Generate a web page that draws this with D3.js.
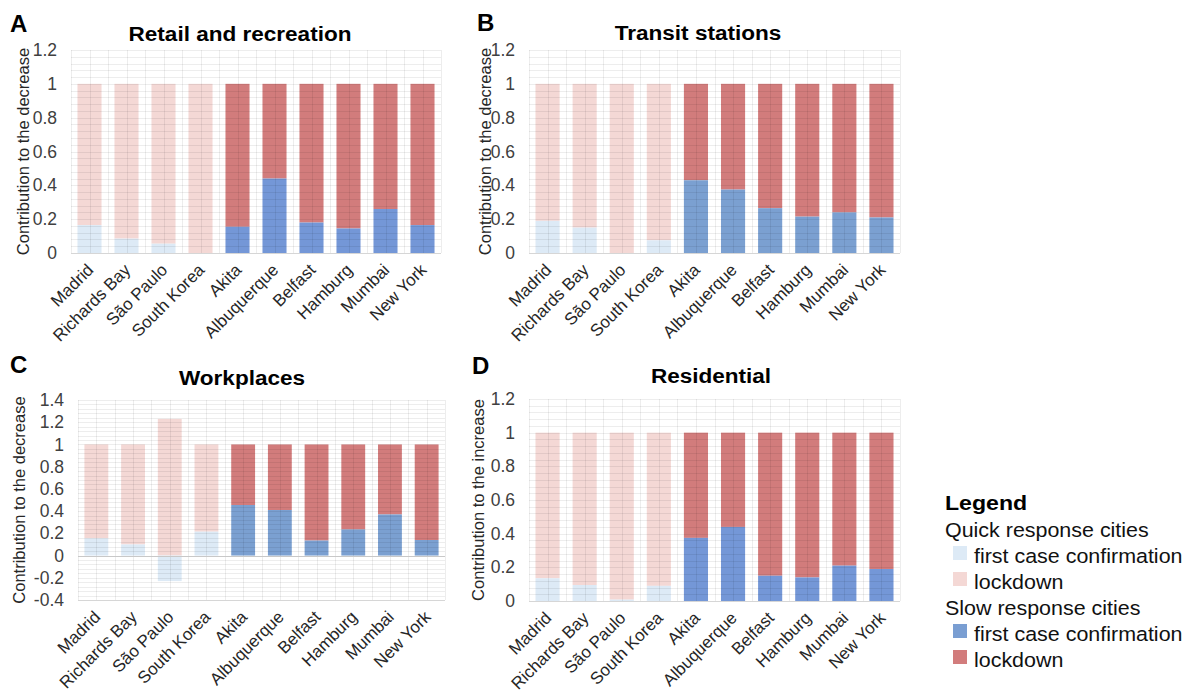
<!DOCTYPE html>
<html>
<head>
<meta charset="utf-8">
<script src="https://cdn.jsdelivr.net/npm/d3@7"></script>
<style>
  body { margin: 0; background: #fff; }
  text { font-family: "Liberation Sans", Arial, sans-serif; }
</style>
</head>
<body>
<svg width="1189" height="697"></svg>
<script>
const cities = ["Madrid", "Richards Bay", "São Paulo", "South Korea", "Akita",
                "Albuquerque", "Belfast", "Hamburg", "Mumbai", "New York"];
const quickCount = 4; // first four are quick response cities

// share of the change explained by first case confirmation / lockdown
const retailFirst     = [0.165, 0.085, 0.055, 0.0, 0.155, 0.44, 0.18, 0.145, 0.26, 0.165];
const retailLockdown  = [0.835, 0.915, 0.945, 1.0, 0.845, 0.56, 0.82, 0.855, 0.74, 0.835];
const transitFirst    = [0.19, 0.15, 0.0, 0.075, 0.43, 0.375, 0.265, 0.215, 0.24, 0.21];
const transitLockdown = [0.81, 0.85, 1.0, 0.925, 0.57, 0.625, 0.735, 0.785, 0.76, 0.79];
const workFirst       = [0.155, 0.10, -0.23, 0.215, 0.455, 0.41, 0.135, 0.235, 0.37, 0.14];
const workLockdown    = [0.845, 0.90, 1.23, 0.785, 0.545, 0.59, 0.865, 0.765, 0.63, 0.86];
const residFirst      = [0.135, 0.095, 0.008, 0.09, 0.375, 0.44, 0.15, 0.14, 0.21, 0.19];
const residLockdown   = [0.865, 0.905, 0.992, 0.91, 0.625, 0.56, 0.85, 0.86, 0.79, 0.81];

const legendGroups = ["Quick response cities", "Slow response cities"];
const legendItems = ["first case confirmation", "lockdown"];

const quickFirstColor = "#ddeaf6";
const quickLockColor = "#f4d8d5";
const slowLockColor = "#d27c7c";

const svg = d3.select("svg");
const fmt = d => String(Math.round(d * 10) / 10);

const panels = [
  { letter: "A", title: "Retail and recreation", first: retailFirst, lock: retailLockdown,
    left: 71, right: 441, top: 50, bottom: 253, domain: [0, 1.2],
    titleX: 240, titleY: 41, letterX: 10, letterY: 32, ylabX: 23,
    ylab: "Contribution to the decrease", blue: "#7497d7" },
  { letter: "B", title: "Transit stations", first: transitFirst, lock: transitLockdown,
    left: 529, right: 900, top: 50, bottom: 253, domain: [0, 1.2],
    titleX: 698, titleY: 40, letterX: 477, letterY: 31, ylabX: 485,
    ylab: "Contribution to the decrease", blue: "#7ba0d1" },
  { letter: "C", title: "Workplaces", first: workFirst, lock: workLockdown,
    left: 78, right: 445, top: 400, bottom: 600, domain: [-0.4, 1.4],
    titleX: 242, titleY: 385, letterX: 10, letterY: 373, ylabX: 19,
    ylab: "Contribution to the decrease", blue: "#7ba0d1" },
  { letter: "D", title: "Residential", first: residFirst, lock: residLockdown,
    left: 529, right: 900, top: 399, bottom: 601, domain: [0, 1.2],
    titleX: 711, titleY: 383, letterX: 472, letterY: 374, ylabX: 478,
    ylab: "Contribution to the increase", blue: "#7497d7" }
];

function drawPanel(p) {
  const g = svg.append("g");

  const x = d3.scaleBand()
    .domain(cities)
    .range([p.left, p.right])
    .paddingInner(0.35)
    .paddingOuter(0.175);
  const y = d3.scaleLinear()
    .domain(p.domain)
    .range([p.bottom, p.top]);

  const rows = cities.map((c, i) => ({
    city: c, first: p.first[i], lock: p.lock[i], quick: i < quickCount
  }));

  // lockdown sits on top of the positive part of first case
  g.selectAll(".lock").data(rows).join("rect")
    .attr("x", d => x(d.city))
    .attr("width", x.bandwidth())
    .attr("y", d => y(Math.max(0, d.first) + d.lock))
    .attr("height", d => y(Math.max(0, d.first)) - y(Math.max(0, d.first) + d.lock))
    .attr("fill", d => d.quick ? quickLockColor : slowLockColor);

  g.selectAll(".first").data(rows).join("rect")
    .attr("x", d => x(d.city))
    .attr("width", x.bandwidth())
    .attr("y", d => y(Math.max(0, d.first)))
    .attr("height", d => Math.abs(y(d.first) - y(0)))
    .attr("fill", d => d.quick ? quickFirstColor : p.blue);

  // excel style grid, drawn over the bars so it shows through
  const nMinor = Math.round((p.domain[1] - p.domain[0]) / 0.04);
  const hLines = d3.range(nMinor + 1).map(i => p.domain[0] + i * 0.04);
  const step = x.step();
  const vLines = d3.range(cities.length * 2 + 1).map(i => p.left + i * step / 2);

  g.selectAll(".hg").data(hLines).join("line")
    .attr("x1", p.left).attr("x2", p.right)
    .attr("y1", d => Math.round(y(d)) + 0.5).attr("y2", d => Math.round(y(d)) + 0.5)
    .attr("stroke", "#000").attr("stroke-opacity", 0.07);
  g.selectAll(".vg").data(vLines).join("line")
    .attr("x1", d => Math.round(d) + 0.5).attr("x2", d => Math.round(d) + 0.5)
    .attr("y1", p.top).attr("y2", p.bottom)
    .attr("stroke", "#000").attr("stroke-opacity", 0.07);

  // zero line and bottom edge
  g.append("line")
    .attr("x1", p.left).attr("x2", p.right)
    .attr("y1", Math.round(y(0)) + 0.5).attr("y2", Math.round(y(0)) + 0.5)
    .attr("stroke", "#c8c8c8");
  g.append("line")
    .attr("x1", p.left).attr("x2", p.right)
    .attr("y1", p.bottom + 0.5).attr("y2", p.bottom + 0.5)
    .attr("stroke", "#d6d6d6");

  // y axis
  const ticks = d3.range(Math.round((p.domain[1] - p.domain[0]) / 0.2) + 1)
    .map(i => p.domain[0] + i * 0.2);
  g.append("g")
    .attr("transform", `translate(${p.left},0)`)
    .call(d3.axisLeft(y).tickValues(ticks).tickSize(0).tickPadding(14).tickFormat(fmt))
    .call(a => a.select(".domain").remove())
    .attr("font-family", null)
    .attr("font-size", 17.5)
    .selectAll("text").attr("fill", "#404040");

  // x labels, rotated
  g.selectAll(".xl").data(cities).join("text")
    .attr("transform", d => `translate(${x(d) + x.bandwidth() / 2 + 5},${p.bottom + 18}) rotate(-45)`)
    .attr("text-anchor", "end")
    .attr("font-size", 17)
    .attr("fill", "#262626")
    .text(d => d);

  // y title
  g.append("text")
    .attr("transform", `translate(${p.ylabX},${(p.top + p.bottom) / 2}) rotate(-90)`)
    .attr("text-anchor", "middle")
    .attr("dy", "0.35em")
    .attr("font-size", 16.5)
    .attr("fill", "#262626")
    .text(p.ylab);

  // title and panel letter
  g.append("text")
    .attr("transform", `translate(${p.titleX},${p.titleY}) scale(1.1,1)`)
    .attr("text-anchor", "middle")
    .attr("font-size", 20.5)
    .attr("font-weight", "bold")
    .text(p.title);
  g.append("text")
    .attr("x", p.letterX).attr("y", p.letterY)
    .attr("font-size", 24)
    .attr("font-weight", "bold")
    .text(p.letter);
}

panels.forEach(drawPanel);

// legend
const lg = svg.append("g");
lg.append("text")
  .attr("transform", "translate(945,510) scale(1.1,1)")
  .attr("font-size", 21)
  .attr("font-weight", "bold")
  .text("Legend");

const swatches = [
  [quickFirstColor, quickLockColor],
  ["#7a9ed2", slowLockColor]
];
legendGroups.forEach((grp, gi) => {
  const y0 = 537 + gi * 78;
  lg.append("text")
    .attr("transform", `translate(945,${y0}) scale(1.1,1)`)
    .attr("font-size", 19.5)
    .attr("fill", "#111")
    .text(grp);
  legendItems.forEach((item, ii) => {
    const yy = y0 + 26 + ii * 26;
    lg.append("rect")
      .attr("x", 953).attr("y", yy - 17)
      .attr("width", 14).attr("height", 14)
      .attr("fill", swatches[gi][ii]);
    lg.append("text")
      .attr("transform", `translate(974,${yy}) scale(1.1,1)`)
      .attr("font-size", 19.5)
      .attr("fill", "#111")
      .text(item);
  });
});
</script>
</body>
</html>
